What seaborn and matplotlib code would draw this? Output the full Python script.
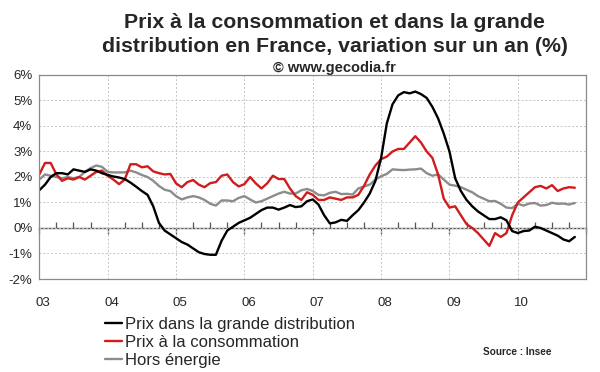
import numpy as np
import pandas as pd
import matplotlib
matplotlib.use("Agg")
import matplotlib.pyplot as plt
import matplotlib.transforms as mtransforms
import seaborn as sns

# ---- data (monthly, Jan 2003 -> Nov 2010) ----
grande_distribution = [
    1.48, 1.70, 2.00, 2.15, 2.15, 2.10, 2.30, 2.25, 2.20, 2.30, 2.25, 2.15,
    2.08, 2.02, 1.98, 1.92, 1.78, 1.62, 1.45, 1.30, 0.85, 0.20, -0.10, -0.25,
    -0.40, -0.55, -0.65, -0.80, -0.95, -1.02, -1.05, -1.05, -0.50, -0.10, 0.05, 0.20,
    0.30, 0.40, 0.55, 0.70, 0.80, 0.80, 0.72, 0.80, 0.90, 0.82, 0.85, 1.05,
    1.12, 0.92, 0.50, 0.18, 0.22, 0.32, 0.28, 0.50, 0.70, 1.00, 1.35, 1.85,
    2.75, 4.10, 4.85, 5.20, 5.33, 5.28, 5.35, 5.25, 5.10, 4.75, 4.30, 3.70,
    3.00, 1.95, 1.45, 1.10, 0.85, 0.65, 0.50, 0.35, 0.35, 0.42, 0.30, -0.12,
    -0.20, -0.12, -0.10, 0.05, 0.00, -0.10, -0.20, -0.30, -0.45, -0.52, -0.35,
]
consommation = [
    2.10, 2.55, 2.55, 2.10, 1.85, 1.95, 1.90, 2.00, 1.90, 2.05, 2.20, 2.25,
    2.05, 1.90, 1.72, 1.90, 2.50, 2.50, 2.38, 2.42, 2.22, 2.15, 2.10, 2.12,
    1.75, 1.60, 1.80, 1.88, 1.70, 1.60, 1.76, 1.80, 2.05, 2.10, 1.80, 1.63,
    1.72, 2.00, 1.75, 1.55, 1.75, 2.05, 1.92, 1.92, 1.55, 1.25, 1.10, 1.40,
    1.30, 1.10, 1.10, 1.20, 1.15, 1.10, 1.20, 1.20, 1.30, 1.65, 2.10, 2.45,
    2.70, 2.80, 3.00, 3.10, 3.10, 3.35, 3.60, 3.35, 3.00, 2.75, 2.10, 1.15,
    0.80, 0.85, 0.50, 0.15, 0.00, -0.20, -0.45, -0.70, -0.20, -0.35, -0.20, 0.50,
    1.00, 1.20, 1.40, 1.60, 1.65, 1.55, 1.68, 1.45, 1.55, 1.60, 1.58,
]
hors_energie = [
    1.90, 2.10, 2.05, 2.00, 1.95, 2.00, 1.95, 2.00, 2.20, 2.35, 2.45, 2.40,
    2.20, 2.18, 2.18, 2.18, 2.25, 2.18, 2.08, 2.00, 1.85, 1.65, 1.50, 1.45,
    1.25, 1.12, 1.20, 1.25, 1.20, 1.10, 0.95, 0.88, 1.08, 1.08, 1.05, 1.18,
    1.25, 1.12, 1.00, 1.05, 1.15, 1.25, 1.35, 1.42, 1.35, 1.35, 1.48, 1.53,
    1.45, 1.30, 1.28, 1.38, 1.42, 1.33, 1.34, 1.31, 1.55, 1.63, 1.70, 1.90,
    2.03, 2.12, 2.30, 2.28, 2.27, 2.29, 2.30, 2.33, 2.15, 2.05, 2.10, 1.90,
    1.70, 1.66, 1.60, 1.50, 1.40, 1.25, 1.15, 1.05, 1.06, 0.95, 0.80, 0.78,
    0.95, 0.88, 0.96, 0.98, 0.88, 0.90, 0.99, 0.95, 0.96, 0.92, 0.98,
]
series_names = ["Prix dans la grande distribution", "Prix à la consommation", "Hors énergie"]
year_labels = ["03", "04", "05", "06", "07", "08", "09", "10"]
y_ticks = [-2, -1, 0, 1, 2, 3, 4, 5, 6]

n = len(grande_distribution)
t = 2003 + np.arange(n) / 12.0
df = pd.concat([
    pd.DataFrame({"t": t, "v": grande_distribution, "serie": series_names[0]}),
    pd.DataFrame({"t": t, "v": consommation, "serie": series_names[1]}),
    pd.DataFrame({"t": t, "v": hors_energie, "serie": series_names[2]}),
])

sns.set_style("white")
plt.rcParams["font.family"] = ["Liberation Sans", "DejaVu Sans"]

fig = plt.figure(figsize=(6.0, 3.72), dpi=100)
ax = fig.add_axes([0.0655, 0.25, 0.9115, 0.5484])

palette = {series_names[0]: "#000000", series_names[1]: "#d01c1c", series_names[2]: "#8c8c8c"}
sns.lineplot(data=df, x="t", y="v", hue="serie", palette=palette, linewidth=1.7,
             ax=ax, legend=False, hue_order=series_names[::-1])

ax.set_xlim(2003, 2011)
ax.set_ylim(-2, 6)
ax.set_yticks(y_ticks)
ax.set_yticklabels([f"{v}%" for v in y_ticks], fontsize=9.5)
ax.set_xticks(np.arange(2003, 2011))
ax.set_xticklabels(year_labels, fontsize=9.5)
ax.tick_params(axis="x", length=0, pad=13)
ax.tick_params(axis="y", length=3, width=0.8, color="#808080", direction="out", pad=2)
ax.set_xlabel("")
ax.set_ylabel("")
ax.grid(True, color="#c4c4c4", linestyle=(0, (2, 2)), linewidth=0.7)
for s in ax.spines.values():
    s.set_color("#8a8a8a")
    s.set_linewidth(0.9)

# zero axis with ticks
sec = ax.secondary_xaxis(0.25)
sec.spines["bottom"].set_color("#555555")
sec.spines["bottom"].set_linewidth(1.0)
sec.set_xticks(np.arange(2003, 2012))
sec.set_xticks(np.arange(2003, 2011, 0.25), minor=True)
sec.set_xticklabels([])
sec.tick_params(axis="x", which="major", direction="out", length=4, color="#555555", width=0.9)
sec.tick_params(axis="x", which="minor", direction="in", length=4, color="#555555", width=0.9)

offset = mtransforms.ScaledTranslation(4 / 100, 0, fig.dpi_scale_trans)
for lbl in ax.get_xticklabels():
    lbl.set_transform(lbl.get_transform() + offset)

fig.text(0.558, 1 - 28 / 372, "Prix à la consommation et dans la grande",
         ha="center", va="baseline", fontsize=15.3, fontweight="bold")
fig.text(0.558, 1 - 52 / 372, "distribution en France, variation sur un an (%)",
         ha="center", va="baseline", fontsize=15.3, fontweight="bold")
fig.text(0.558, 1 - 72 / 372, "© www.gecodia.fr", ha="center", va="baseline", fontsize=10.5, fontweight="bold")
fig.text(0.805, 0.053, "Source : Insee", ha="left", va="center", fontsize=7.2, fontweight="bold")

handles = [plt.Line2D([], [], color=palette[s], linewidth=1.7) for s in series_names]
fig.legend(handles, series_names, loc="upper left", bbox_to_anchor=(0.175, 0.147),
           frameon=False, fontsize=12, handlelength=1.0, handletextpad=0.2,
           labelspacing=0.17, borderaxespad=0, borderpad=0)

fig.savefig("out.png", dpi=100)
